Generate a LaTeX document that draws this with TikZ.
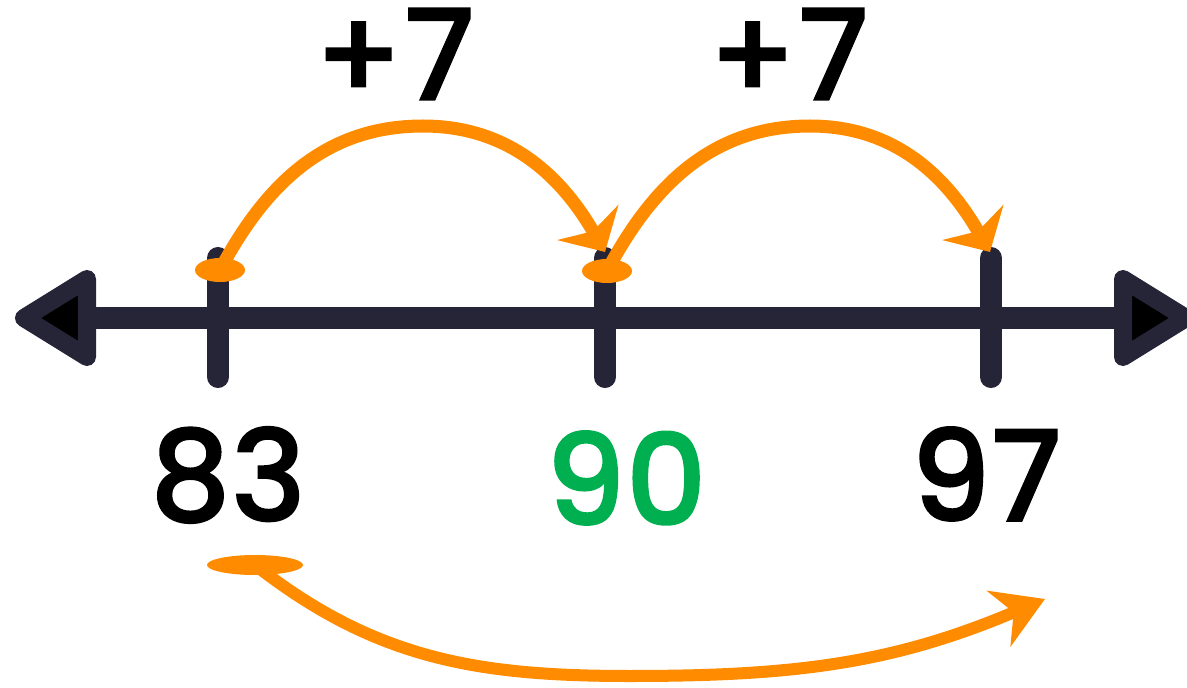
\documentclass[tikz,border=0pt]{standalone}
\usepackage{fontspec}
\usepackage{tikz}
\usetikzlibrary{arrows.meta}
\newfontfamily\numfont{Poppins Medium}[RawFeature={embolden=1.2}]
\definecolor{navy}{RGB}{38,37,56}
\definecolor{jump}{RGB}{255,140,0}
\definecolor{hit}{RGB}{0,176,80}

\begin{document}
\begin{tikzpicture}[x=0.01cm,y=0.01cm,
    axisline/.style={line width=0.21cm,navy},
    axishead/.style={line width=0.18cm,navy,line join=round,fill=black},
    tickmark/.style={line width=0.22cm,navy,line cap=round},
    num/.style={font=\numfont\fontsize{36}{40}\selectfont,inner sep=0pt},
    hop/.style={line width=0.13cm,jump,-{Stealth[length=0.34cm,width=0.7cm,inset=0.1cm]}},
    bighop/.style={line width=0.12cm,jump,-{Stealth[length=0.5cm,width=0.6cm,inset=0.16cm]}}]
    \useasboundingbox (0,0) rectangle (1187,687);
        \draw[axisline] (87,369)--(1123,369);
        \draw[axishead] (24,369)--(87,408)--(87,330)--cycle;
        \draw[axishead] (1186,369)--(1123,408)--(1123,330)--cycle;
        \foreach \x in {218,605,991} \draw[tickmark] (\x,310)--(\x,429);
        \node[num] (n83) at (228,212) {83};
        \node[num,hit] (n90) at (626,209) {90};
        \node[num] (n97) at (986,213) {97};
        \node[num] (p1) at (394,633) {+7};
        \node[num] (p2) at (788,633) {+7};
        \coordinate (s1) at (220,417);
        \coordinate (s2) at (607,416);
        \coordinate (s3) at (255,122);
        \coordinate (top1) at (423,561);
        \coordinate (top2) at (810,561);
        \coordinate (low) at (630,11);
        \coordinate (e3) at (1045,88);
        \coordinate (e1) at (605,435);
        \coordinate (e2) at (990,435);
        \draw[hop] (s1) to[out=62,in=180] (top1) to[out=0,in=120] (e1);
        \draw[hop] (s2) to[out=62,in=180] (top2) to[out=0,in=120] (e2);
        \draw[bighop] (s3) to[out=-38,in=180] (low) to[out=0,in=203] (e3);
        \fill[jump] (s1) ellipse [x radius=25,y radius=12];
        \fill[jump] (s2) ellipse [x radius=25,y radius=12];
        \fill[jump] (s3) ellipse [x radius=48,y radius=10];
    \end{tikzpicture}
\end{document}
